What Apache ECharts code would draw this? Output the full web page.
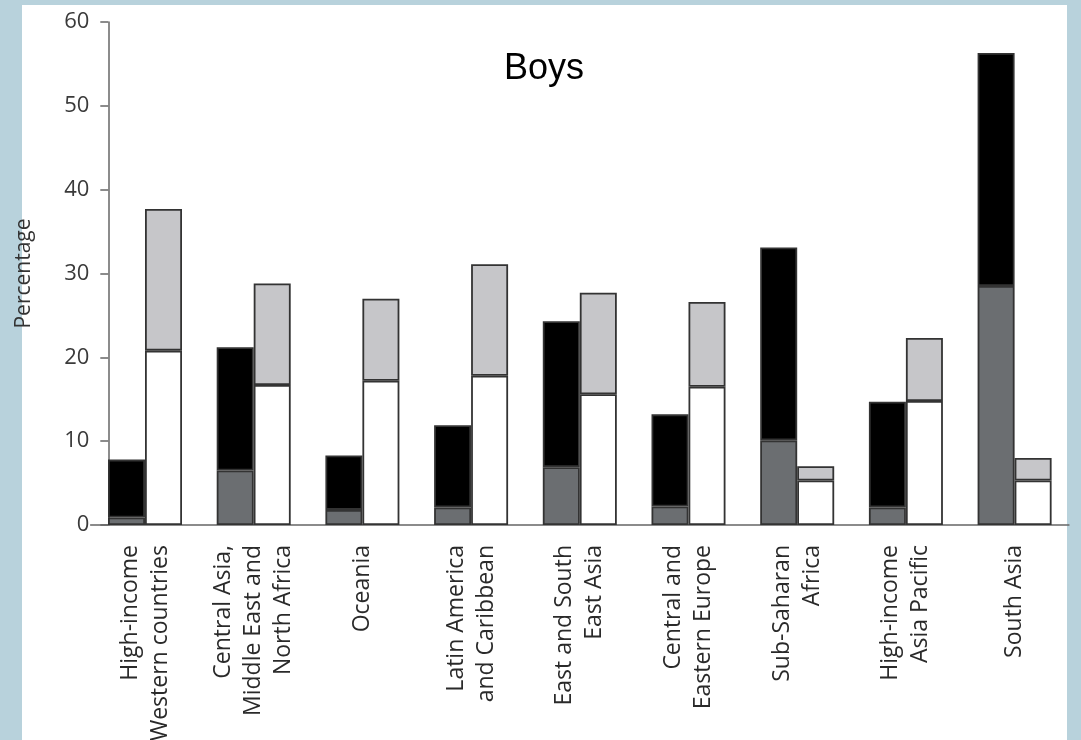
<!DOCTYPE html>
<html>
<head>
<meta charset="utf-8">
<script src="https://cdn.jsdelivr.net/npm/echarts@6/dist/echarts.min.js"></script>
<style>
  html, body { margin: 0; padding: 0; background: #b8d2dc; width: 1081px; height: 740px; overflow: hidden; }
  #panel { position: absolute; left: 22px; top: 5px; width: 1045px; height: 735px; background: #ffffff; }
  #chart { position: absolute; left: 0; top: 0; width: 1081px; height: 740px; }
</style>
</head>
<body>
<div id="panel"></div>
<div id="chart"></div>
<script>
// Categories (x axis)
const categories = [
  'High-income\nWestern countries',
  'Central Asia,\nMiddle East and\nNorth Africa',
  'Oceania',
  'Latin America\nand Caribbean',
  'East and South\nEast Asia',
  'Central and\nEastern Europe',
  'Sub-Saharan\nAfrica',
  'High-income\nAsia Pacific',
  'South Asia'
];
// Left stacked bar: dark grey bottom segment, black top segment
const leftGray  = [0.9, 6.5, 1.8, 2.1, 6.9, 2.2, 10.1, 2.1, 28.5];
const leftBlack = [6.9, 14.7, 6.5, 9.8, 17.4, 11.0, 23.0, 12.6, 27.8];
// Right stacked bar: white bottom segment, light grey top segment
const rightWhite = [20.8, 16.7, 17.2, 17.8, 15.6, 16.5, 5.3, 14.8, 5.3];
const rightLight = [16.9, 12.1, 9.8, 13.3, 12.1, 10.1, 1.7, 7.5, 2.7];
// Y axis ticks
const yTicks = [0, 10, 20, 30, 40, 50, 60];

const chart = echarts.init(document.getElementById('chart'), null, { renderer: 'canvas' });
const border = { borderColor: '#333333', borderWidth: 1.8 };
const labelFont = '"Open Sans", "DejaVu Sans", sans-serif';

chart.setOption({
  backgroundColor: 'transparent',
  animation: false,
  title: {
    text: 'Boys',
    left: 499,
    top: 46,
    textStyle: { fontFamily: '"Liberation Sans", Arial, sans-serif', fontSize: 36, fontWeight: 'normal', color: '#000' }
  },
  grid: { left: 90.65, top: 22, width: 978.3, height: 503, containLabel: false, outerBoundsMode: 'none' },
  xAxis: {
    type: 'category',
    data: categories,
    axisLine: { show: true, lineStyle: { color: '#666', width: 1.5 } },
    axisTick: { show: false },
    axisLabel: {
      interval: 0,
      rotate: 90,
      margin: 20,
      fontSize: 23,
      lineHeight: 30,
      color: '#2a2a2a',
      fontFamily: labelFont
    }
  },
  yAxis: {
    type: 'value',
    min: yTicks[0],
    max: yTicks[yTicks.length - 1],
    interval: 10,
    offset: -17.65,
    name: 'Percentage',
    nameLocation: 'middle',
    nameGap: 74,
    nameRotate: 90,
    nameTextStyle: { fontSize: 21, color: '#333', fontFamily: labelFont },
    axisLine: { show: true, lineStyle: { color: '#666', width: 1.5 } },
    axisTick: { show: true, length: 8, lineStyle: { color: '#666', width: 1.5 } },
    axisLabel: { margin: 19, fontSize: 22, color: '#3a3a3a', fontFamily: labelFont },
    splitLine: { show: false }
  },
  series: [
    { name: 'left-gray', type: 'bar', stack: 'L', data: leftGray, barWidth: 37, barGap: '0%',
      itemStyle: Object.assign({ color: '#6b6e71' }, border) },
    { name: 'left-black', type: 'bar', stack: 'L', data: leftBlack, barWidth: 37, barGap: '0%',
      itemStyle: Object.assign({ color: '#000000' }, border) },
    { name: 'right-white', type: 'bar', stack: 'R', data: rightWhite, barWidth: 37, barGap: '0%',
      itemStyle: Object.assign({ color: '#ffffff' }, border) },
    { name: 'right-light', type: 'bar', stack: 'R', data: rightLight, barWidth: 37, barGap: '0%',
      itemStyle: Object.assign({ color: '#c6c6c9' }, border) }
  ]
});
</script>
</body>
</html>
